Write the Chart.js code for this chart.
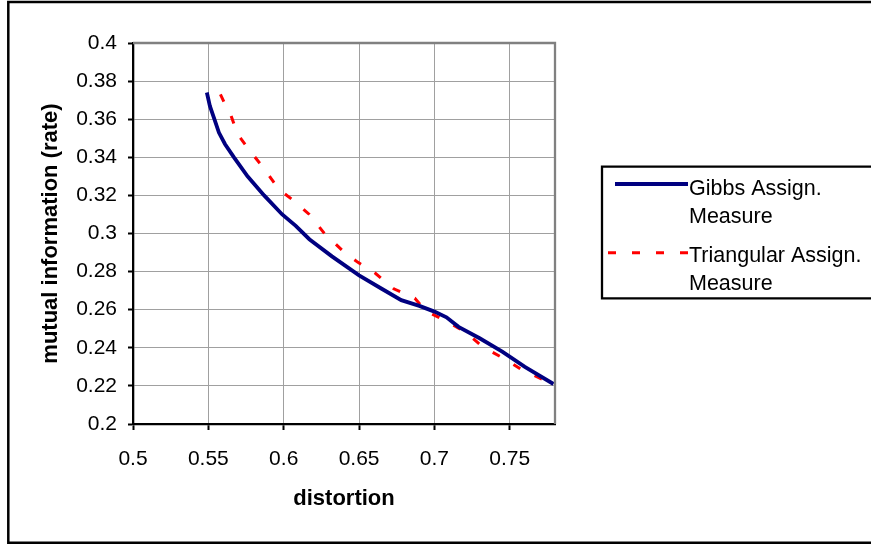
<!DOCTYPE html>
<html>
<head>
<meta charset="utf-8">
<script src="https://cdn.jsdelivr.net/npm/chart.js@4/dist/chart.umd.min.js"></script>
<style>
  html, body { margin: 0; padding: 0; background: #fff; }
  canvas { display: block; }
</style>
</head>
<body>
<canvas id="c" width="871" height="544"></canvas>
<script>
// Rate-distortion curves for two assignment measures
const gibbsDistortion = [0.549, 0.551, 0.554, 0.557, 0.561, 0.567, 0.576, 0.587, 0.599, 0.608, 0.617, 0.632, 0.650, 0.665, 0.678, 0.690, 0.700, 0.708, 0.716, 0.730, 0.745, 0.760, 0.779];
const gibbsRate       = [0.374, 0.367, 0.360, 0.353, 0.347, 0.340, 0.330, 0.320, 0.310, 0.304, 0.297, 0.288, 0.278, 0.271, 0.265, 0.262, 0.259, 0.256, 0.251, 0.245, 0.238, 0.230, 0.221];

const triDistortion = [0.558, 0.561, 0.565, 0.5695, 0.577, 0.587, 0.597, 0.607, 0.617, 0.627, 0.639, 0.649, 0.661, 0.673, 0.687, 0.694, 0.708, 0.721, 0.732, 0.747, 0.759, 0.773, 0.779];
const triRate       = [0.373, 0.368, 0.362, 0.352, 0.344, 0.334, 0.323, 0.317, 0.310, 0.300, 0.291, 0.285, 0.279, 0.271, 0.266, 0.2595, 0.254, 0.248, 0.2405, 0.234, 0.228, 0.223, 0.2205];

const xTicks = [0.5, 0.55, 0.6, 0.65, 0.7, 0.75];
const yTicks = [0.2, 0.22, 0.24, 0.26, 0.28, 0.3, 0.32, 0.34, 0.36, 0.38, 0.4];

const gibbsLabel = ['Gibbs Assign.', 'Measure'];
const triLabel = ['Triangular Assign.', 'Measure'];
const xTitle = 'distortion';
const yTitle = 'mutual information (rate)';

const toPoints = (xs, ys) => xs.map((x, i) => ({ x: x, y: ys[i] }));

const FONT = '"Liberation Sans", Arial, Helvetica, sans-serif';

// White page with the outer frame, plus grey top/right plot edges
const framePlugin = {
  id: 'frame',
  beforeDraw(chart) {
    const ctx = chart.ctx;
    ctx.save();
    ctx.fillStyle = '#fff';
    ctx.fillRect(0, 0, chart.width, chart.height);
    ctx.strokeStyle = '#000';
    ctx.lineWidth = 2.5;
    ctx.beginPath();
    ctx.moveTo(chart.width + 5, 2);
    ctx.lineTo(8.3, 2);
    ctx.lineTo(8.3, 542.8);
    ctx.lineTo(chart.width + 5, 542.8);
    ctx.stroke();
    ctx.restore();
  },
  afterDatasetsDraw(chart) {
    const { top, right, left, bottom } = chart.chartArea;
    const ctx = chart.ctx;
    ctx.save();
    ctx.strokeStyle = '#808080';
    ctx.lineWidth = 2.3;
    ctx.beginPath();
    ctx.moveTo(left, top);
    ctx.lineTo(right, top);
    ctx.lineTo(right, bottom);
    ctx.stroke();
    ctx.restore();
  }
};

// Boxed legend to the right of the plot
const boxLegendPlugin = {
  id: 'boxLegend',
  afterDraw(chart) {
    const ctx = chart.ctx;
    ctx.save();
    ctx.strokeStyle = '#000';
    ctx.lineWidth = 2.3;
    ctx.beginPath();
    ctx.moveTo(chart.width + 5, 166.7);
    ctx.lineTo(602, 166.7);
    ctx.lineTo(602, 298.3);
    ctx.lineTo(chart.width + 5, 298.3);
    ctx.stroke();

    const rows = [
      { ds: chart.data.datasets[0], lineY: 184, x0: 615, x1: 688, base: 195 },
      { ds: chart.data.datasets[1], lineY: 252.7, x0: 608, x1: 688, base: 262 }
    ];
    rows.forEach(r => {
      ctx.strokeStyle = r.ds.borderColor;
      ctx.lineWidth = r.ds.borderWidth;
      ctx.setLineDash(r.ds.borderDash || []);
      ctx.beginPath();
      ctx.moveTo(r.x0, r.lineY);
      ctx.lineTo(r.x1, r.lineY);
      ctx.stroke();
      ctx.setLineDash([]);
      ctx.fillStyle = '#000';
      ctx.font = '21.5px ' + FONT;
      ctx.textBaseline = 'alphabetic';
      ctx.textAlign = 'left';
      r.ds.label.forEach((t, i) => ctx.fillText(t, 689, r.base + i * 27.5));
    });
    ctx.restore();
  }
};

new Chart(document.getElementById('c'), {
  type: 'line',
  data: {
    datasets: [
      {
        label: gibbsLabel,
        data: toPoints(gibbsDistortion, gibbsRate),
        borderColor: '#000080',
        borderWidth: 3.8,
        pointRadius: 0,
        tension: 0,
        fill: false
      },
      {
        label: triLabel,
        data: toPoints(triDistortion, triRate),
        borderColor: '#ff0000',
        borderWidth: 3,
        borderDash: [8, 16],
        pointRadius: 0,
        tension: 0,
        fill: false
      }
    ]
  },
  options: {
    responsive: false,
    devicePixelRatio: 1,
    animation: false,
    layout: { padding: { left: 0, top: 43, right: 316, bottom: 0 } },
    plugins: {
      legend: { display: false },
      tooltip: { enabled: false }
    },
    scales: {
      x: {
        type: 'linear',
        min: 0.5,
        max: 0.78,
        afterBuildTicks: s => { s.ticks = xTicks.map(v => ({ value: v })); },
        afterFit: s => { s.height = 120; },
        ticks: {
          color: '#000',
          font: { family: FONT, size: 21 },
          padding: 17,
          maxRotation: 0,
          autoSkip: false,
          callback: v => String(v)
        },
        grid: {
          color: '#a0a0a0',
          lineWidth: 1,
          tickColor: '#000',
          tickLength: 6,
          tickWidth: 2
        },
        border: { color: '#000', width: 2.3 },
        title: {
          display: true,
          text: xTitle,
          color: '#000',
          font: { family: FONT, size: 22, weight: 'bold' },
          padding: { top: 0, bottom: 32 }
        }
      },
      y: {
        type: 'linear',
        min: 0.2,
        max: 0.4,
        afterBuildTicks: s => { s.ticks = yTicks.map(v => ({ value: v })); },
        afterFit: s => { s.width = 133; },
        ticks: {
          color: '#000',
          font: { family: FONT, size: 21 },
          padding: 11,
          autoSkip: false,
          callback: v => String(v)
        },
        grid: {
          color: '#a0a0a0',
          lineWidth: 1,
          tickColor: '#000',
          tickLength: 5,
          tickWidth: 2
        },
        border: { color: '#000', width: 2.3 },
        title: {
          display: true,
          text: yTitle,
          color: '#000',
          font: { family: FONT, size: 22, weight: 'bold' },
          padding: { top: 38, bottom: 0 }
        }
      }
    }
  },
  plugins: [framePlugin, boxLegendPlugin]
});
</script>
</body>
</html>
